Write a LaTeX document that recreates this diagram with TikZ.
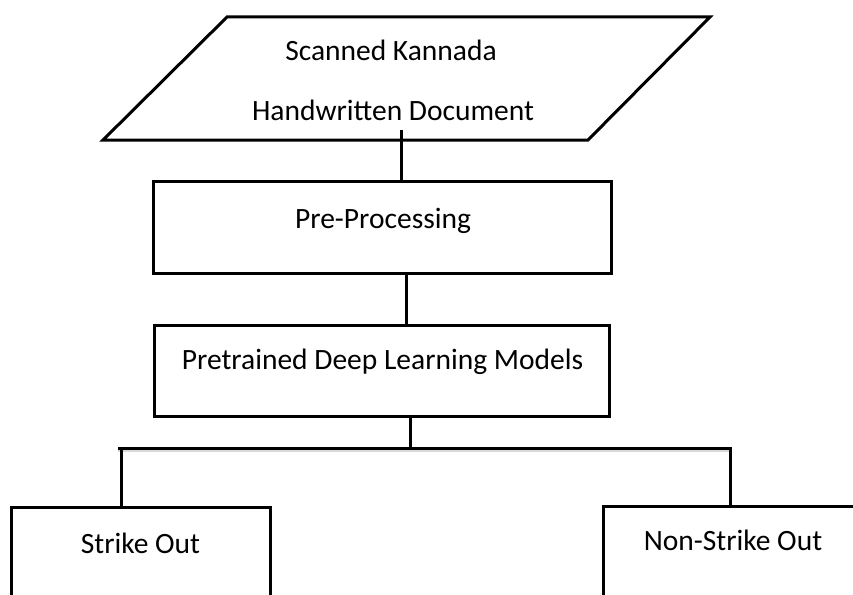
\documentclass[tikz,border=0pt]{standalone}
\usepackage{fontspec}
\setmainfont{Carlito}
\begin{document}
\begin{tikzpicture}[x=1pt,y=-1pt,line width=3pt,
  boxn/.style={draw,line width=3pt,inner sep=0pt,outer sep=0pt},
  lbl/.style={inner sep=0pt,anchor=base,font=\fontsize{29.5}{35}\selectfont},
  link/.style={draw,line width=3pt}]
\useasboundingbox (0,0) rectangle (853,594);
\clip (0,0) rectangle (853,594);
% input parallelogram
\coordinate (d1) at (103,140);
\coordinate (d2) at (227,17);
\coordinate (d3) at (710,17);
\coordinate (d4) at (588,140);
\draw[line width=3pt,line join=miter] (d1) -- (d2) -- (d3) -- (d4) -- cycle;
\node[lbl] (t1) at (391,60) {Scanned Kannada};
\node[lbl] (t2) at (393,120) {Handwritten Document};
% boxes
\node[boxn,minimum width=458pt,minimum height=92pt] (pre) at (382,227) {};
\node[lbl] (pretxt) at (383,228) {Pre-Processing};
\node[boxn,minimum width=455pt,minimum height=91pt] (ptm) at (381.5,370.5) {};
\node[lbl] (ptmtxt) at (382.5,369) {Pretrained Deep Learning Models};
\node[boxn,minimum width=259pt,minimum height=133pt] (so) at (140.5,573.5) {};
\node[lbl] (sotxt) at (140.5,553) {Strike Out};
\node[boxn,minimum width=317pt,minimum height=134pt] (nso) at (761.5,573) {};
\node[lbl] (nsotxt) at (733,550) {Non-Strike Out};
% connectors
\coordinate (c1) at (401,130);
\coordinate (c2) at (406,0);
\coordinate (c3) at (410,448);
\coordinate (hL) at (118,448);
\coordinate (hR) at (732,448);
\coordinate (v1) at (121,448);
\coordinate (v2) at (730,448);
\draw[link] (c1) -- (c1 |- pre.north);
\draw[link] (c2 |- pre.south) -- (c2 |- ptm.north);
\draw[link] (c3 |- ptm.south) -- (c3);
\draw[gray!30,line width=2.5pt] ([yshift=-3pt]hL) -- ([yshift=-3pt]hR);
\draw[link] (hL) -- (hR);
\draw[link] (v1) -- (v1 |- so.north);
\draw[link] (v2) -- (v2 |- nso.north);
\end{tikzpicture}
\end{document}
